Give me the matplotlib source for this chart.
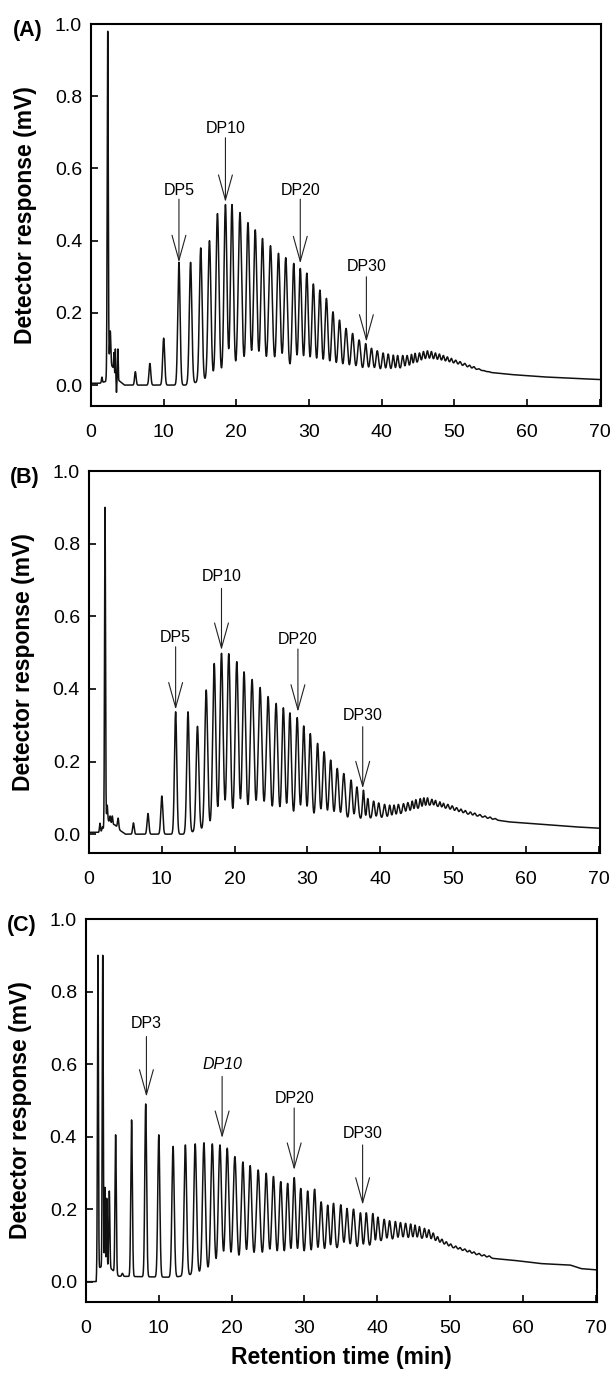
import matplotlib.pyplot as plt
import numpy as np

plt.rcParams['font.family'] = ['Liberation Sans', 'DejaVu Sans']

# ---- panel A: peak apex positions (min) and apex response (mV)
a_peak_t = [1.5, 2.3, 2.65, 3.15, 3.35, 3.5, 3.7, 6.1, 8.1, 10.0,
            12.1, 13.7, 15.1, 16.3, 17.4, 18.5, 19.4, 20.5, 21.6, 22.6, 23.6, 24.7, 25.8, 26.8, 27.9, 28.8,
            29.7, 30.6, 31.5, 32.4, 33.3, 34.2, 35.1, 36.0, 36.9, 37.8,
            38.6, 39.4, 40.2, 40.9, 41.6, 42.2, 42.9, 43.5, 44.1, 44.6, 45.2, 45.75, 46.3, 46.85,
            47.4, 47.95, 48.5, 49.05, 49.6, 50.2, 50.8, 51.45, 52.1, 52.7, 53.4, 54.1, 54.8]
a_peak_h = [0.022, 0.98, 0.15, 0.09, 0.10, -0.02, 0.10, 0.037, 0.06, 0.13,
            0.34, 0.34, 0.38, 0.40, 0.475, 0.50, 0.50, 0.478, 0.45, 0.43, 0.406, 0.386, 0.365, 0.353, 0.337, 0.323,
            0.31, 0.28, 0.263, 0.24, 0.203, 0.18, 0.157, 0.143, 0.125, 0.115,
            0.102, 0.095, 0.089, 0.086, 0.083, 0.082, 0.082, 0.082, 0.085, 0.088, 0.089, 0.093, 0.095, 0.093,
            0.089, 0.086, 0.082, 0.078, 0.074, 0.069, 0.065, 0.06, 0.055, 0.051, 0.045, 0.04, 0.037]
# baseline (trough level)
a_base_t = [0, 1.2, 2.0, 2.5, 3.0, 3.4, 4.0, 4.6, 11.0, 13.0, 15.0, 17.0, 19.0, 22.0, 26.0, 30.0, 34.0,
            37.0, 40.0, 42.0, 43.5, 45.0, 46.3, 48.0, 50.0, 52.7, 55.0, 58.0, 62.0, 66.0, 70.5]
a_base_v = [0.005, 0.005, 0.01, 0.06, 0.05, 0.02, 0.01, 0.0, 0.0, 0.0, 0.01, 0.02, 0.03, 0.035, 0.04, 0.04, 0.04,
            0.04, 0.04, 0.043, 0.05, 0.063, 0.072, 0.068, 0.06, 0.045, 0.035, 0.029, 0.023, 0.019, 0.015]

# ---- panel B
b_peak_t = [1.5, 1.85, 2.2, 2.5, 2.9, 3.2, 4.0, 6.1, 8.1, 10.0,
            11.9, 13.6, 14.9, 16.1, 17.2, 18.2, 19.2, 20.3, 21.3, 22.4, 23.5, 24.6, 25.7, 26.7, 27.6, 28.6,
            29.5, 30.4, 31.4, 32.3, 33.2, 34.1, 35.0, 36.0, 36.8, 37.7,
            38.3, 39.1, 39.8, 40.6, 41.3, 41.9, 42.5, 43.2, 43.8, 44.4, 44.9, 45.5, 46.0, 46.5,
            47.1, 47.6, 48.2, 48.7, 49.3, 49.9, 50.5, 51.1, 51.7, 52.4, 53.0, 53.7, 54.4, 55.1, 55.8]
b_peak_h = [0.03, 0.02, 0.90, 0.08, 0.05, 0.05, 0.044, 0.031, 0.057, 0.105,
            0.337, 0.337, 0.297, 0.397, 0.47, 0.498, 0.497, 0.475, 0.447, 0.426, 0.404, 0.379, 0.36, 0.348, 0.334, 0.321,
            0.298, 0.277, 0.25, 0.227, 0.204, 0.181, 0.167, 0.149, 0.13, 0.121,
            0.098, 0.091, 0.086, 0.082, 0.08, 0.08, 0.082, 0.084, 0.087, 0.091, 0.095, 0.098, 0.10, 0.10,
            0.096, 0.093, 0.089, 0.085, 0.082, 0.078, 0.073, 0.069, 0.065, 0.061, 0.058, 0.054, 0.05, 0.047, 0.043]
b_base_t = [0, 1.3, 1.9, 2.5, 3.0, 3.6, 4.3, 5.0, 11.0, 13.0, 15.0, 17.0, 19.0, 22.0, 26.0, 30.0, 34.0,
            37.5, 40.5, 42.0, 44.0, 46.0, 47.0, 48.5, 50.0, 52.0, 55.0, 57.6, 62.2, 66.0, 70.5]
b_base_v = [0.005, 0.005, 0.01, 0.04, 0.03, 0.025, 0.01, 0.0, 0.0, 0.0, 0.01, 0.02, 0.03, 0.035, 0.04, 0.04, 0.04,
            0.042, 0.044, 0.05, 0.063, 0.075, 0.08, 0.073, 0.065, 0.055, 0.042, 0.034, 0.027, 0.021, 0.016]

# ---- panel C
c_peak_t = [1.64, 2.3, 2.6, 2.85, 3.2, 4.07, 5.0, 6.26, 8.2, 10.0,
            11.96, 13.65, 15.0, 16.2, 17.35, 18.4, 19.4, 20.45, 21.55, 22.55, 23.65, 24.75, 25.75, 26.75, 27.7, 28.6,
            29.5, 30.45, 31.4, 32.3, 33.2, 34.0, 35.0, 35.85, 36.75, 37.7,
            38.5, 39.4, 40.1, 40.96, 41.7, 42.5, 43.2, 43.9, 44.6, 45.2, 45.8, 46.5, 47.1,
            47.7, 48.3, 48.9, 49.5, 50.1, 50.8, 51.4, 52.05, 52.7, 53.3, 54.0, 54.7, 55.4]
c_peak_h = [0.90, 0.90, 0.26, 0.23, 0.25, 0.405, 0.023, 0.446, 0.49, 0.405,
            0.373, 0.377, 0.38, 0.383, 0.38, 0.377, 0.368, 0.345, 0.33, 0.32, 0.308, 0.299, 0.29, 0.276, 0.271, 0.287,
            0.257, 0.25, 0.255, 0.22, 0.211, 0.216, 0.212, 0.202, 0.20, 0.19,
            0.19, 0.188, 0.178, 0.172, 0.168, 0.166, 0.163, 0.161, 0.159, 0.156, 0.152, 0.147, 0.143,
            0.134, 0.124, 0.117, 0.11, 0.104, 0.098, 0.094, 0.09, 0.086, 0.082, 0.078, 0.074, 0.071]
c_base_t = [0, 1.4, 1.5, 2.0, 3.5, 4.5, 12.0, 14.0, 17.0, 20.0, 23.0, 26.0, 29.0, 30.5, 33.0, 35.0, 38.0,
            40.5, 44.0, 47.0, 48.5, 50.0, 52.0, 54.0, 56.0, 58.2, 60.5, 62.4, 66.5, 68.0, 70.5]
c_base_v = [0.0, 0.0, 0.035, 0.04, 0.035, 0.015, 0.012, 0.018, 0.03, 0.04, 0.05, 0.055, 0.06, 0.06, 0.078, 0.092, 0.088,
            0.11, 0.118, 0.118, 0.108, 0.096, 0.084, 0.072, 0.064, 0.06, 0.055, 0.05, 0.046, 0.036, 0.032]

# ---- DP markers: label, retention time, label height, arrow tail, arrow tip
a_dp = ['DP5', 'DP10', 'DP20', 'DP30']
a_dp_t = [12.1, 18.5, 28.8, 37.9]
a_dp_text = [0.54, 0.71, 0.538, 0.328]
a_dp_tail = [0.515, 0.685, 0.515, 0.30]
a_dp_tip = [0.34, 0.507, 0.337, 0.12]

b_dp = ['DP5', 'DP10', 'DP20', 'DP30']
b_dp_t = [11.9, 18.2, 28.7, 37.6]
b_dp_text = [0.543, 0.709, 0.537, 0.328]
b_dp_tail = [0.516, 0.677, 0.51, 0.296]
b_dp_tip = [0.343, 0.507, 0.337, 0.126]

c_dp = ['DP3', 'DP10', 'DP20', 'DP30']
c_dp_t = [8.3, 18.7, 28.6, 38.0]
c_dp_text = [0.711, 0.598, 0.506, 0.408]
c_dp_tail = [0.676, 0.566, 0.479, 0.377]
c_dp_tip = [0.51, 0.396, 0.308, 0.212]
c_dp_style = ['normal', 'italic', 'normal', 'normal']


def trace(pt, ph, bt, bv, t):
    pt = np.array(pt)
    ph = np.array(ph)
    base = np.interp(t, bt, bv)
    amp = ph - np.interp(pt, bt, bv)
    gaps = np.diff(pt)
    near = np.minimum(np.r_[gaps[0], gaps], np.r_[gaps, gaps[-1]])
    sig = np.minimum(0.22 * near, 0.05 + 0.009 * pt)
    y = base.copy()
    for p, a, s in zip(pt, amp, sig):
        y += a * np.exp(-0.5 * ((t - p) / s) ** 2)
    return y


t = np.arange(0, 70.2, 0.004)

fig = plt.figure(figsize=(6.13, 13.75), dpi=100)
axA = fig.add_axes([0.1485, 0.7047, 0.832, 0.2778])
axB = fig.add_axes([0.1452, 0.3796, 0.8336, 0.2778])
axC = fig.add_axes([0.1403, 0.0531, 0.8336, 0.2785])

panels = [
    (axA, '(A)', a_peak_t, a_peak_h, a_base_t, a_base_v, a_dp, a_dp_t, a_dp_text, a_dp_tail, a_dp_tip,
     ['normal'] * 4, -0.058),
    (axB, '(B)', b_peak_t, b_peak_h, b_base_t, b_base_v, b_dp, b_dp_t, b_dp_text, b_dp_tail, b_dp_tip,
     ['normal'] * 4, -0.052),
    (axC, '(C)', c_peak_t, c_peak_h, c_base_t, c_base_v, c_dp, c_dp_t, c_dp_text, c_dp_tail, c_dp_tip,
     c_dp_style, -0.056),
]

for ax, tag, pt, ph, bt, bv, dp, dpt, dptext, dptail, dptip, style, ymin in panels:
    ax.plot(t, trace(pt, ph, bt, bv, t), color='#111111', lw=1.1)
    ax.set_xlim(0, 70.2)
    ax.set_ylim(ymin, 1.0)
    ax.set_xticks(np.arange(0, 71, 10))
    ax.set_yticks(np.arange(0, 1.01, 0.2))
    ax.set_yticklabels(['%.1f' % v for v in np.arange(0, 1.01, 0.2)])
    ax.tick_params(direction='in', length=5, width=1.2, labelsize=14)
    ax.tick_params(axis='x', pad=13)
    ax.tick_params(axis='y', pad=6.5)
    for sp in ax.spines.values():
        sp.set_linewidth(1.5)
    ax.set_ylabel('Detector response (mV)', fontsize=16.5, fontweight='bold')
    ax.yaxis.set_label_coords(-0.105, 0.5)
    ax.text(-0.125, 0.982, tag, transform=ax.get_yaxis_transform(), ha='center', va='center',
            fontsize=15.5, fontweight='bold')
    for lab, x, ty, y0, y1, st in zip(dp, dpt, dptext, dptail, dptip, style):
        ax.text(x, ty, lab, ha='center', va='center', fontsize=11.5, fontstyle=st)
        ax.annotate('', xy=(x, y1), xytext=(x, y0),
                    arrowprops=dict(arrowstyle='->,head_length=1.8,head_width=0.5', lw=0.8,
                                    color='#222222', shrinkA=0, shrinkB=0, mutation_scale=10))

axC.set_xlabel('Retention time (min)', fontsize=16.5, fontweight='bold')
axC.xaxis.set_label_coords(0.5, -0.115)

fig.savefig('out.png', dpi=100)
